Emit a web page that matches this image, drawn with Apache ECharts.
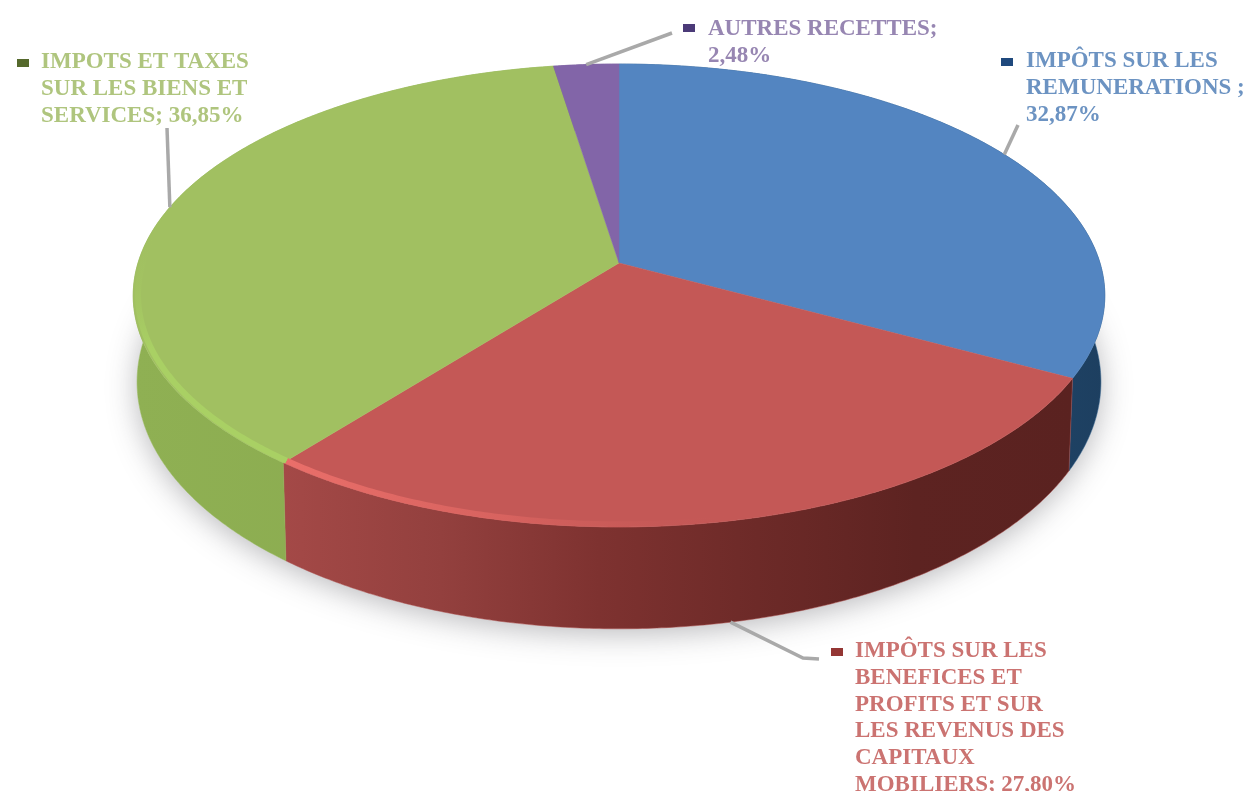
<!DOCTYPE html>
<html><head><meta charset="utf-8">
<style>html,body{margin:0;padding:0;background:#fff}#main{width:1252px;height:791px;filter:blur(0.7px)}</style>
<script src="https://cdn.jsdelivr.net/npm/echarts@6/dist/echarts.min.js"></script>
</head><body><div id="main"></div>
<script>
const categories = [
  'IMPÔTS SUR LES\nREMUNERATIONS ;\n',
  'IMPÔTS SUR LES\nBENEFICES ET\nPROFITS ET SUR\nLES REVENUS DES\nCAPITAUX\nMOBILIERS; ',
  'IMPOTS ET TAXES\nSUR LES BIENS ET\nSERVICES; ',
  'AUTRES RECETTES;\n'
];
const shares = [32.87, 27.80, 36.85, 2.48];
const topColors = ['#5385c1', '#c45856', '#a1c061', '#8265a8'];
const textColors = ['#6c93c2', '#cb7371', '#afc57e', '#9786b2'];
const markerColors = ['#1f497d', '#943634', '#55692c', '#4b3a78'];
const sideColors = [
  ['#2b5a86', '#1d3f60'],
  ['#a44947', '#93403e', '#7e3230', '#6d2a28', '#5d2321', '#5a2220'],
  ['#8fb053', '#89a94e'],
  ['#6a5290', '#6a5290']
];
const rimColors = [null, ['#ea6f6a', '#dc6561cc', '#c4585600'], ['#a9d064', '#a9d064', '#a1c06100'], null];
// annotation layout, in pixels: [elbow, marker centre, text left, text top]
const annotations = [
  {line: [[1018, 125]], marker: [1007, 62], text: [1026, 48]},
  {line: [[803, 658], [819, 659]], marker: [837, 652], text: [855, 638]},
  {line: [[167, 128]], marker: [23, 63], text: [41, 49]},
  {line: [[672, 33]], marker: [689, 28], text: [708, 16]}
];

// projection of a tilted disc
const TILT = 0.1403, STEP = 0.5;
function project(deg, z) {
  const a = deg * Math.PI / 180, u = Math.sin(a), v = Math.cos(a), w = 1 + TILT * v;
  if (!z) return [u / w, v / w];
  const s = 0.992, drop = (84 - 20 * v) / 226.9;
  return [s * u / w, s * v / w - drop];
}
const total = shares.reduce((a, b) => a + b, 0);
let run = 0;
const spans = shares.map(v => { const s = run; run += v; return [s / total * 360, run / total * 360]; });

function arc(from, to, z, api) {
  const pts = [];
  const n = Math.max(2, Math.ceil((to - from) / STEP));
  for (let i = 0; i <= n; i++) pts.push(api.coord(project(from + (to - from) * i / n, z)));
  return pts;
}
function stops(list) { return list.map((c, i) => ({offset: i / (list.length - 1), color: c})); }
function hGrad(list) { return {type: 'linear', x: 0, y: 0, x2: 1, y2: 0, colorStops: stops(list)}; }
function vGrad(list) { return {type: 'linear', x: 0, y: 1, x2: 0, y2: 0, colorStops: stops(list)}; }

function renderSlice(params, api) {
  const i = params.dataIndex, [a, b] = spans[i];
  const top = arc(a, b, 0, api), bottom = arc(a, b, 1, api), apex = api.coord([0, 0]);
  const children = [
    {type: 'polygon', z2: 1, shape: {points: top.concat(bottom.slice().reverse())},
     style: {fill: hGrad(sideColors[i]), stroke: sideColors[i][0], lineWidth: 0.5}},
    {type: 'polygon', z2: 3, shape: {points: [apex].concat(top)},
     style: {fill: topColors[i], stroke: topColors[i], lineWidth: 0.5}}
  ];
  if (rimColors[i]) {
    const s = i === 1 ? [a + 50, b] : [a, a + 58];
    const inset = arc(s[0], s[1], 0, api).map(p => [apex[0] + (p[0] - apex[0]) * 0.99, apex[1] + (p[1] - apex[1]) * 0.99]);
    children.push({type: 'polyline', z2: 4, shape: {points: inset},
      style: {stroke: i === 1 ? hGrad(rimColors[i]) : vGrad(rimColors[i]), lineWidth: 6, fill: 'none'}});
  }
  // leader, label, marker
  const mid = (a + b) / 2, note = annotations[i];
  const start = api.coord(project(mid, Math.cos(mid * Math.PI / 180) < -0.5 ? 1 : 0));
  children.push({type: 'polyline', z2: 5, shape: {points: [start].concat(note.line)},
    style: {stroke: '#a9a9a9', lineWidth: 3.5, fill: 'none'}});
  children.push({type: 'rect', z2: 6, shape: {x: note.marker[0] - 6, y: note.marker[1] - 4, width: 12, height: 8},
    style: {fill: markerColors[i]}});
  children.push({type: 'text', z2: 6, x: note.text[0], y: note.text[1],
    style: {text: categories[i] + shares[i].toFixed(2).replace('.', ',') + '%',
      fontFamily: 'Liberation Serif', fontSize: 23, fontWeight: 'bold', lineHeight: 26.7,
      fill: textColors[i], textVerticalAlign: 'top', textAlign: 'left'}});
  return {type: 'group', children};
}
function renderShadow(params, api) {
  const pts = arc(0, 360, 1, api);
  return {type: 'polygon', z2: 0, shape: {points: pts},
    style: {fill: '#fff', shadowBlur: 30, shadowColor: 'rgba(60,60,70,0.36)', shadowOffsetY: 5}};
}

const chart = echarts.init(document.getElementById('main'), null, {renderer: 'canvas'});
chart.setOption({
  animation: false,
  backgroundColor: '#fff',
  grid: {left: 41.8, right: 55.8, top: 36.1, bottom: 74.2},
  xAxis: {type: 'value', min: -1.2, max: 1.2, show: false},
  yAxis: {type: 'value', min: -2, max: 1, show: false},
  series: [
    {type: 'custom', silent: true, clip: false, z: 1, renderItem: renderShadow, data: [[0, 0]]},
    {type: 'custom', silent: true, clip: false, z: 2, renderItem: renderSlice,
     data: shares.map((v, i) => [0, 0, v, i]), encode: {x: 0, y: 1}}
  ]
});
</script></body></html>
